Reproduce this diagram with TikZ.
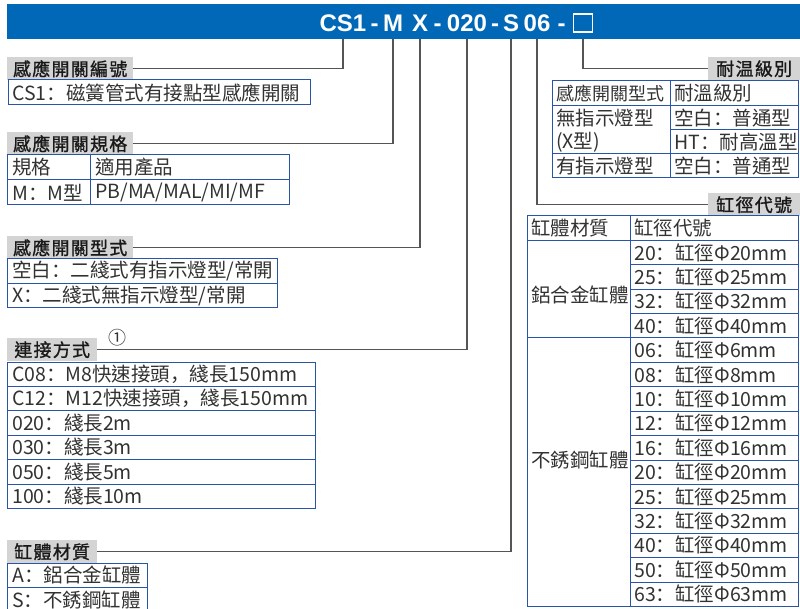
\documentclass[tikz,border=0pt]{standalone}
\usepackage{fontspec}
\setmainfont{Noto Sans CJK TC}
\newfontfamily\codefont{Liberation Sans}
\newfontfamily\scfont{Noto Sans CJK SC}
\newfontfamily\tagfont[FakeBold=1.2, LetterSpace=7]{Noto Sans CJK TC}
\usetikzlibrary{calc}

\definecolor{barblue}{RGB}{0,104,183}
\definecolor{gridblue}{RGB}{42,84,166}
\definecolor{tagfill}{RGB}{212,212,212}
\definecolor{leadgray}{RGB}{85,85,85}
\definecolor{celltext}{RGB}{50,50,50}

% left-set full-width punctuation
\newcommand{\cln}{{\scfont ：}}
\newcommand{\cma}{{\scfont ，}}

\tikzset{
  code/.style={text=white, font=\codefont\bfseries\fontsize{24}{24}\selectfont, inner sep=0pt, anchor=base},
  tag/.style={fill=tagfill, text=black!90, font=\tagfont\fontsize{18}{20}\selectfont, minimum height=23, inner sep=0pt, anchor=north west},
  lead/.style={draw=leadgray, line width=1.3pt},
  tbl/.style={draw=gridblue, line width=1pt},
  cell/.style={text=celltext, font=\fontsize{19.5}{23}\selectfont, inner sep=0pt, anchor=west},
}

\begin{document}
\begin{tikzpicture}[x=1pt, y=-1pt]
  \useasboundingbox (0,0) rectangle (800,609);

  % Code bar
  \fill[barblue] (7,4) rectangle (800,39);
  \coordinate (bar) at (7,39);
  \node[code] (cs)   at (343,32) {CS1};
  \node[code] (m)    at (393,32) {M};
  \node[code] (xt)   at (420,32) {X};
  \node[code] (n020) at (467,32) {020};
  \node[code] (s)    at (511,32) {S};
  \node[code] (n06)  at (537,32) {06};
  \node[draw=white, line width=1.3pt, minimum width=19, minimum height=18, inner sep=0pt] (sq) at (583,23) {};
  \node[code] (d1) at ($(cs.base east)!.5!(m.base west)$) {-};
  \node[code] (d2) at ($(xt.base east)!.5!(n020.base west)$) {-};
  \node[code] (d3) at ($(n020.base east)!.5!(s.base west)$) {-};
  \node[code] (d4) at ($(n06.base east)!.5!(sq.west |- n06.base)$) {-};

  % Labels
  \node[tag, minimum width=126] (lb1) at (7,57) {感應開關編號};
  \node[tag, minimum width=126] (lb2) at (7,132) {感應開關規格};
  \node[tag, minimum width=126] (lb3) at (7,236) {感應開關型式};
  \node[tag, minimum width=90] (lb4) at (7,338) {連接方式};
  \node[tag, minimum width=90] (lb5) at (7,540) {缸體材質};
  \node[tag, minimum width=92] (rb1) at (708,57) {耐温級別};
  \node[tag, minimum width=92] (rb2) at (708,193) {缸徑代號};
  \node[cell, anchor=center, font=\fontsize{18}{18}\selectfont] (one) at (117,338) {①};

  % Leads
  \draw[lead] (cs |- bar) |- (lb1.east);
  \draw[lead] (m |- bar) |- (lb2.east);
  \draw[lead] (xt |- bar) |- (lb3.east);
  \draw[lead] (n020 |- bar) |- (lb4.east);
  \draw[lead] (s |- bar) |- (lb5.east);
  \draw[lead] (n06 |- bar) |- (rb2.west);
  \draw[lead] (sq |- bar) |- (rb1.west);

  % Sensor number
  \draw[tbl] (8,80) rectangle (310,105);
  \node[cell] (c1) at (12,92.5) {CS1\cln 磁簧管式有接點型感應開關};

  % Sensor spec
  \draw[tbl] (7,155) rectangle (289,205) (7,180) -- (289,180) (90,155) -- (90,205);
  \node[cell] (c2a) at (12,167.5) {規格};
  \node[cell] (c2b) at (95,167.5) {適用產品};
  \node[cell] (c2c) at (12,192.5) {M\cln M型};
  \node[cell] (c2d) at (95,192.5) {PB/MA/MAL/MI/MF};

  % Sensor type
  \draw[tbl] (7,259) rectangle (277,308) (7,283.5) -- (277,283.5);
  \node[cell] (c3a) at (12,271.25) {空白\cln 二綫式有指示燈型/常開};
  \node[cell] (c3b) at (12,295.75) {X\cln 二綫式無指示燈型/常開};

  % Connection
  \foreach \txt [count=\i] in {C08\cln M8快速接頭\cma 綫長150mm,C12\cln M12快速接頭\cma 綫長150mm,020\cln 綫長2m,030\cln 綫長3m,050\cln 綫長5m,100\cln 綫長10m} {
    \draw[tbl] (7,337.6+24.4*\i) rectangle (315,362+24.4*\i);
    \node[cell] (lk\i) at (12,349.8+24.4*\i) {\txt};
  }

  % Body material
  \draw[tbl] (7,563) rectangle (147,612) (7,587.5) -- (147,587.5);
  \node[cell] (c5a) at (12,575.25) {A\cln 鋁合金缸體};
  \node[cell] (c5b) at (12,599.75) {S\cln 不銹鋼缸體};

  % Heat resistance
  \draw[tbl] (552,81) rectangle (798,178) (670,81) -- (670,178) (552,106) -- (798,106)
    (670,130) -- (798,130) (552,154) -- (798,154);
  \node[cell, font=\fontsize{18}{23}\selectfont] (h1) at (556,93.5) {感應開關型式};
  \node[cell] (h2) at (674,93.5) {耐溫級別};
  \node[cell] (h3) at (556,118) {無指示燈型};
  \node[cell] (h4) at (556,142) {(X型)};
  \node[cell] (h5) at (674,118) {空白\cln 普通型};
  \node[cell] (h6) at (674,142) {HT\cln 耐高溫型};
  \node[cell] (h7) at (556,166) {有指示燈型};
  \node[cell] (h8) at (674,166) {空白\cln 普通型};

  % Bore size
  \draw[tbl] (527,216) rectangle (798,606.4) (630,216) -- (630,606.4)
    (527,240.4) -- (630,240.4) (527,338) -- (630,338);
  \node[cell] (b1) at (531,228.2) {缸體材質};
  \node[cell] (b2) at (634,228.2) {缸徑代號};
  \node[cell] (b3) at (531,295) {鋁合金缸體};
  \node[cell] (b4) at (531,460) {不銹鋼缸體};
  \foreach \bn/\bd [count=\i] in {20/20,25/25,32/32,40/40,06/6,08/8,10/10,12/12,16/16,20/20,25/25,32/32,40/40,50/50,63/63} {
    \draw[tbl] (630,216+24.4*\i) -- (798,216+24.4*\i);
    \node[cell] (bore\i) at (634,228.2+24.4*\i) {\bn\cln 缸徑Φ\bd mm};
  }
\end{tikzpicture}
\end{document}
